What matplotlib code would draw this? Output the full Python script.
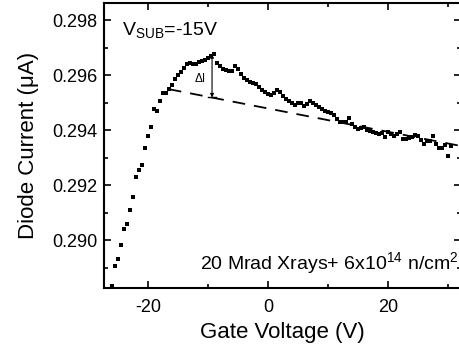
import matplotlib
matplotlib.use("Agg")
import matplotlib.pyplot as plt
from matplotlib.ticker import MultipleLocator

plt.rcParams['font.family'] = ['Liberation Sans', 'DejaVu Sans']
plt.rcParams['axes.unicode_minus'] = False

gate_v = [-26.0, -25.5, -25.0, -24.5, -24.0, -23.5, -23.0, -22.5, -22.0, -21.5,
          -21.0, -20.5, -20.0, -19.5, -19.0, -18.5, -18.0, -17.5, -17.0, -16.5,
          -16.0, -15.5, -15.0, -14.5, -14.0, -13.5, -13.0, -12.5, -12.0, -11.5,
          -11.0, -10.5, -10.0, -9.5, -9.0, -8.5, -8.0, -7.5, -7.0, -6.5,
          -6.0, -5.5, -5.0, -4.5, -4.0, -3.5, -3.0, -2.5, -2.0, -1.5,
          -1.0, -0.5, 0.0, 0.5, 1.0, 1.5, 2.0, 2.5, 3.0, 3.5,
          4.0, 4.5, 5.0, 5.5, 6.0, 6.5, 7.0, 7.5, 8.0, 8.5,
          9.0, 9.5, 10.0, 10.5, 11.0, 11.5, 12.0, 12.5, 13.0, 13.5,
          14.0, 14.5, 15.0, 15.5, 16.0, 16.5, 17.0, 17.5, 18.0, 18.5,
          19.0, 19.5, 20.0, 20.5, 21.0, 21.5, 22.0, 22.5, 23.0, 23.5,
          24.0, 24.5, 25.0, 25.5, 26.0, 26.5, 27.0, 27.5, 28.0, 28.5,
          29.0, 29.5, 30.0, 30.5]
current = [0.28836, 0.28906, 0.28931, 0.28983, 0.29042, 0.29061, 0.29109, 0.29157, 0.29229, 0.29255,
           0.29273, 0.29335, 0.29379, 0.29413, 0.29478, 0.29470, 0.29507, 0.29536, 0.29536, 0.29549,
           0.29563, 0.29585, 0.29600, 0.29612, 0.29627, 0.29642, 0.29645, 0.29639, 0.29642, 0.29646,
           0.29651, 0.29656, 0.29662, 0.29670, 0.29678, 0.29645, 0.29633, 0.29624, 0.29618, 0.29616,
           0.29615, 0.29633, 0.29622, 0.29605, 0.29591, 0.29582, 0.29575, 0.29573, 0.29567, 0.29558,
           0.29547, 0.29538, 0.29530, 0.29529, 0.29535, 0.29545, 0.29538, 0.29525, 0.29512, 0.29505,
           0.29500, 0.29491, 0.29497, 0.29500, 0.29488, 0.29494, 0.29507, 0.29500, 0.29490, 0.29486,
           0.29478, 0.29470, 0.29467, 0.29461, 0.29456, 0.29440, 0.29428, 0.29430, 0.29428, 0.29446,
           0.29424, 0.29412, 0.29406, 0.29408, 0.29410, 0.29400, 0.29398, 0.29395, 0.29390, 0.29386,
           0.29389, 0.29374, 0.29392, 0.29386, 0.29380, 0.29386, 0.29392, 0.29368, 0.29368, 0.29370,
           0.29376, 0.29383, 0.29380, 0.29365, 0.29350, 0.29359, 0.29362, 0.29380, 0.29350, 0.29337,
           0.29335, 0.29347, 0.29307, 0.29344]

baseline_x = [-16.5, 32.1]
baseline_y = [0.29549, 0.29343]

delta_x = -9.3
delta_top = 0.29676
delta_bottom = 0.29519

fig = plt.figure(figsize=(4.59, 3.51), dpi=100)
ax = fig.add_axes([0.2266, 0.1795, 0.7767, 0.812])

ax.plot(gate_v, current, linestyle='none', marker='s', markersize=2.6,
        color='black', markeredgewidth=0)
ax.plot(baseline_x, baseline_y, color='black', linestyle=(0, (7, 5)), linewidth=1.3)

ax.annotate('', xy=(delta_x, delta_bottom), xytext=(delta_x, delta_top),
            arrowprops=dict(arrowstyle='<|-|>', color='black', lw=0.8,
                            mutation_scale=5, shrinkA=0, shrinkB=0))
ax.plot([delta_x - 0.6, delta_x + 0.6], [delta_bottom, delta_bottom], color='black', lw=1.0)
ax.text(delta_x - 1.0, 0.29586, 'ΔI', fontsize=8.5, ha='right', va='center')

ax.text(-24.3, 0.29762, 'V$_{\\mathregular{SUB}}$=-15V', fontsize=14, ha='left', va='center')
ax.text(-11.3, 0.28915, '20 Mrad Xrays+ 6x10$^{\\mathregular{14}}$ n/cm$^{\\mathregular{2}}$',
        fontsize=14, ha='left', va='center', clip_on=False)

ax.set_xlim(-27.3, 32.1)
ax.set_ylim(0.28827, 0.29862)
ax.xaxis.set_major_locator(MultipleLocator(20))
ax.xaxis.set_minor_locator(MultipleLocator(10))
ax.yaxis.set_major_locator(MultipleLocator(0.002))
ax.yaxis.set_minor_locator(MultipleLocator(0.001))
ax.yaxis.set_major_formatter(matplotlib.ticker.FormatStrFormatter('%.3f'))

ax.tick_params(which='both', direction='in', top=True, right=True, labelsize=13, width=1.2)
ax.tick_params(which='major', length=5, pad=5)
ax.tick_params(axis='x', which='major', pad=8)
ax.tick_params(which='minor', length=3)
for s in ax.spines.values():
    s.set_linewidth(1.5)

ax.set_xlabel('Gate Voltage (V)', fontsize=16, labelpad=4)
ax.set_ylabel('Diode Current (μA)', fontsize=16, labelpad=9)

fig.savefig('out.png', dpi=100)
